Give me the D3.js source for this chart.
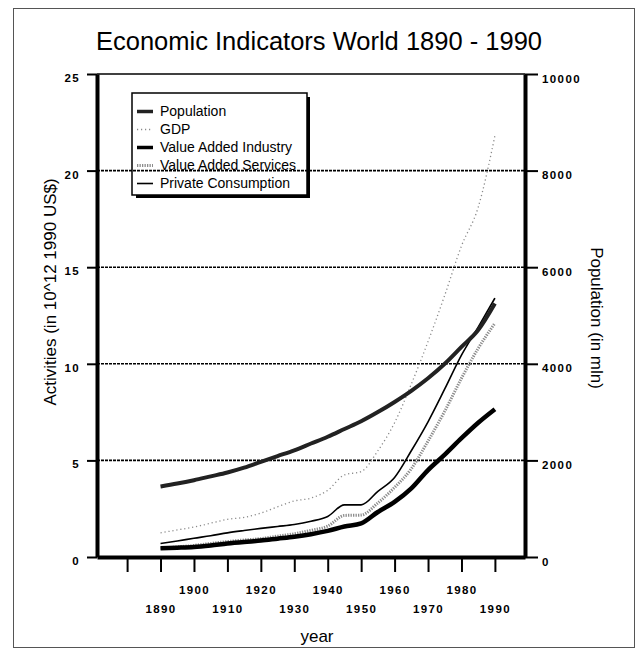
<!DOCTYPE html>
<html>
<head>
<meta charset="utf-8">
<script src="https://cdn.jsdelivr.net/npm/d3@7"></script>
<style>
  body { margin: 0; background: #fff; }
  svg { display: block; }
  text { font-family: "Liberation Sans", Arial, Helvetica, sans-serif; fill: #000; }
</style>
</head>
<body>
<svg id="chart" width="640" height="652"></svg>
<script>
// ---- data ----
const years = [1890, 1895, 1900, 1905, 1910, 1915, 1920, 1925, 1930, 1935, 1940,
               1945, 1950, 1955, 1960, 1965, 1970, 1975, 1980, 1985, 1990];
// world population, million
const population = [1460, 1520, 1590, 1670, 1750, 1850, 1970, 2090, 2210, 2350, 2490,
                    2650, 2810, 3000, 3210, 3440, 3700, 4000, 4350, 4700, 5250];
// activities, 10^12 1990 US$
const gdp = [1.25, 1.4, 1.55, 1.75, 1.95, 2.05, 2.27, 2.6, 2.9, 3.05, 3.45,
             4.25, 4.42, 5.5, 6.95, 8.95, 11.15, 13.55, 16.1, 18.1, 21.8];
const industry = [0.45, 0.48, 0.52, 0.6, 0.7, 0.78, 0.85, 0.95, 1.05, 1.18, 1.35,
                  1.58, 1.74, 2.33, 2.85, 3.55, 4.5, 5.3, 6.15, 6.95, 7.65];
const services = [0.45, 0.52, 0.6, 0.7, 0.8, 0.88, 0.95, 1.08, 1.2, 1.38, 1.6,
                  2.15, 2.17, 2.8, 3.6, 4.57, 6.0, 7.55, 9.25, 10.8, 12.1];
const consumption = [0.7, 0.83, 0.97, 1.1, 1.25, 1.37, 1.48, 1.58, 1.68, 1.85, 2.1,
                     2.7, 2.7, 3.4, 4.12, 5.5, 7.0, 8.7, 10.45, 11.9, 13.4];

const seriesNames = ["Population", "GDP", "Value Added Industry",
                     "Value Added Services", "Private Consumption"];
const leftTicks = [0, 5, 10, 15, 20, 25];
const rightTicks = [0, 2000, 4000, 6000, 8000, 10000];
const yearTicks = [1880, 1890, 1900, 1910, 1920, 1930, 1940, 1950, 1960, 1970, 1980, 1990];

// ---- line styles ----
const styles = {
  "Population":           { stroke: "#222", width: 4,   dash: null },
  "GDP":                  { stroke: "#8a8a8a", width: 1.3, dash: "1.2,2.8" },
  "Value Added Industry": { stroke: "#000", width: 4.5, dash: null },
  "Value Added Services": { stroke: "#8c8c8c", width: 3, dash: "1.3,1.2" },
  "Private Consumption":  { stroke: "#000", width: 1.6, dash: null }
};

const svg = d3.select("#chart");

const x = d3.scaleLinear().domain([1871, 1999]).range([97, 525]);
const yL = d3.scaleLinear().domain([0, 25]).range([557, 74]);
const yR = d3.scaleLinear().domain([0, 10000]).range([557, 74]);

// outer frame
svg.append("rect")
  .attr("x", 13.5).attr("y", 8.5).attr("width", 621).attr("height", 639)
  .attr("fill", "none").attr("stroke", "#555").attr("stroke-width", 1);

// title
svg.append("text")
  .attr("x", 319).attr("y", 50)
  .attr("text-anchor", "middle")
  .attr("font-size", 25.5)
  .text("Economic Indicators World 1890 - 1990");

// horizontal grid
const [x0, x1] = x.range();
svg.append("g").selectAll("line")
  .data(leftTicks.filter(v => v > 0 && v < 25))
  .join("line")
  .attr("x1", x0).attr("x2", x1)
  .attr("y1", d => yL(d)).attr("y2", d => yL(d))
  .attr("stroke", "#000").attr("stroke-width", 1.6)
  .attr("stroke-dasharray", "3,1");

// top frame line
svg.append("line")
  .attr("x1", x0).attr("x2", x1)
  .attr("y1", yL(25)).attr("y2", yL(25))
  .attr("stroke", "#000").attr("stroke-width", 1.6);

// ---- series ----
const table = years.map((yr, i) => ({
  year: yr,
  "Population": population[i],
  "GDP": gdp[i],
  "Value Added Industry": industry[i],
  "Value Added Services": services[i],
  "Private Consumption": consumption[i]
}));

const drawOrder = ["GDP", "Value Added Services", "Private Consumption",
                   "Value Added Industry", "Population"];
drawOrder.forEach(name => {
  const scale = name === "Population" ? yR : yL;
  const line = d3.line()
    .x(d => x(d.year))
    .y(d => scale(d[name]))
    .curve(d3.curveMonotoneX);
  const st = styles[name];
  svg.append("path")
    .datum(table)
    .attr("d", line)
    .attr("fill", "none")
    .attr("stroke", st.stroke)
    .attr("stroke-width", st.width)
    .attr("stroke-linejoin", "round")
    .attr("stroke-dasharray", st.dash);
});

// ---- axes ----
function styleAxis(g, domainWidth) {
  g.select(".domain").attr("stroke", "#000").attr("stroke-width", domainWidth);
  g.selectAll(".tick line").attr("stroke", "#000").attr("stroke-width", 2);
  g.selectAll(".tick text")
    .attr("font-size", 11.5).attr("font-weight", "bold")
    .attr("letter-spacing", 1.4)
    .attr("font-family", "\"Liberation Sans\", Arial, sans-serif");
}

const gLeft = svg.append("g")
  .attr("transform", `translate(${x0},0)`)
  .call(d3.axisLeft(yL).tickValues(leftTicks).tickSize(10).tickSizeOuter(0).tickPadding(7));
styleAxis(gLeft, 4);
gLeft.selectAll(".tick text").attr("dy", "0.65em");

const gRight = svg.append("g")
  .attr("transform", `translate(${x1},0)`)
  .call(d3.axisRight(yR).tickValues(rightTicks).tickSize(13).tickSizeOuter(0).tickPadding(4)
    .tickFormat(d3.format("d")));
styleAxis(gRight, 4);
gRight.selectAll(".tick text").attr("dy", "0.7em");

const gBottom = svg.append("g")
  .attr("transform", `translate(0,${yL(0)})`)
  .call(d3.axisBottom(x).tickValues(yearTicks).tickSize(15).tickSizeOuter(0)
    .tickFormat(d => d === yearTicks[0] ? "" : String(d)));
styleAxis(gBottom, 4);
gBottom.selectAll(".tick text")
  .attr("y", d => (((d - 1890) / 10) % 2 === 1) ? 29 : 48);

// axis titles
svg.append("text")
  .attr("transform", `translate(56,292) rotate(-90)`)
  .attr("text-anchor", "middle")
  .attr("font-size", 17)
  .text("Activities (in 10^12 1990 US$)");

svg.append("text")
  .attr("transform", `translate(591,318) rotate(90)`)
  .attr("text-anchor", "middle")
  .attr("font-size", 17)
  .text("Population (in mln)");

svg.append("text")
  .attr("x", 317).attr("y", 642)
  .attr("text-anchor", "middle")
  .attr("font-size", 17)
  .text("year");

// ---- legend ----
const lg = { x: 132, y: 93, w: 175, h: 102, row: 18, first: 111.5 };
const legend = svg.append("g");
legend.append("rect")
  .attr("x", lg.x).attr("y", lg.y).attr("width", lg.w).attr("height", lg.h)
  .attr("fill", "none").attr("stroke", "#000").attr("stroke-width", 1.5);
legend.append("path")
  .attr("d", `M${lg.x + 4},${lg.y + lg.h + 1.5}H${lg.x + lg.w + 1.5}V${lg.y + 4}`)
  .attr("fill", "none").attr("stroke", "#000").attr("stroke-width", 3);

const items = legend.selectAll("g.item")
  .data(seriesNames)
  .join("g")
  .attr("class", "item")
  .attr("transform", (d, i) => `translate(${lg.x},${lg.first + i * lg.row})`);
items.append("line")
  .attr("x1", 5).attr("x2", 21).attr("y1", 0).attr("y2", 0)
  .attr("stroke", d => styles[d].stroke)
  .attr("stroke-width", d => Math.min(styles[d].width, 3.5))
  .attr("stroke-dasharray", d => styles[d].dash);
items.append("text")
  .attr("x", 28).attr("y", 0).attr("dy", "0.35em")
  .attr("font-size", 14)
  .text(d => d);
</script>
</body>
</html>
